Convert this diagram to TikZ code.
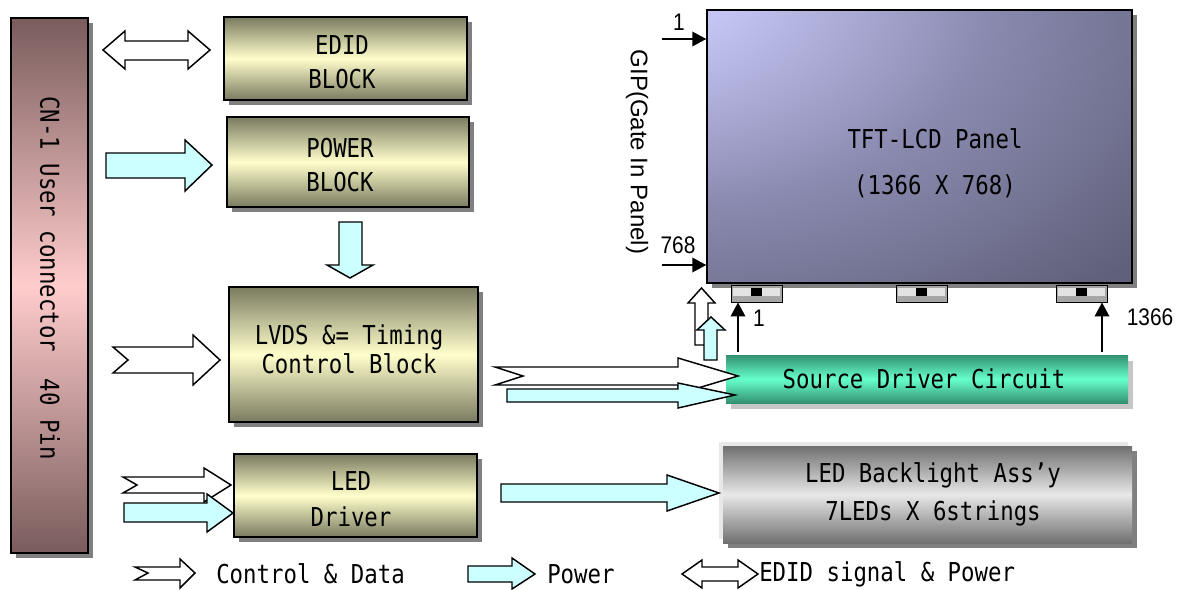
\documentclass[tikz,border=0pt]{standalone}
\usepackage{fontspec}
\usetikzlibrary{arrows.meta,shadows,fit,calc}
\newfontfamily\gul[FakeStretch=0.86]{DejaVu Sans Mono}
\newfontfamily\ari{Liberation Sans}
\newfontfamily\aric[FakeStretch=0.87]{Liberation Sans}
\definecolor{blkD}{RGB}{122,122,96}
\definecolor{blkL}{RGB}{255,255,204}
\definecolor{cnD}{RGB}{122,92,92}
\definecolor{cnL}{RGB}{255,204,204}
\definecolor{pnL}{RGB}{202,202,250}
\definecolor{pnM}{RGB}{138,138,176}
\definecolor{pnD}{RGB}{96,96,122}
\definecolor{srcD}{RGB}{52,145,112}
\definecolor{srcL}{RGB}{102,255,204}
\definecolor{blD}{RGB}{112,112,112}
\definecolor{blL}{RGB}{232,232,232}
\definecolor{cyanL}{RGB}{204,255,255}
\definecolor{shd}{RGB}{128,128,128}
\pgfdeclareradialshading{panelshade}{\pgfpoint{-42bp}{38bp}}{color(0bp)=(pnL); color(14bp)=(pnL); color(38bp)=(pnM); color(62bp)=(pnD); color(130bp)=(pnD)}
\begin{document}
\begin{tikzpicture}[x=0.75pt,y=-0.75pt,
  shadowed/.style={drop shadow={shadow xshift=3.75pt,shadow yshift=-3.75pt,fill=shd,opacity=1}},
  block/.style={draw=black,line width=1.1pt,top color=blkD,bottom color=blkD,middle color=blkL,inner sep=0pt,shadowed},
  cnbox/.style={draw=black,line width=1.1pt,top color=cnD,bottom color=cnD,middle color=cnL,inner sep=0pt,shadowed},
  panelbox/.style={draw=black,line width=1.1pt,shading=panelshade,inner sep=0pt,shadowed},
  srcbox/.style={top color=srcD,bottom color=srcD,middle color=srcL,inner sep=0pt,
     drop shadow={shadow xshift=3.75pt,shadow yshift=-4.5pt,fill=gray!45,opacity=1}},
  blbox/.style={top color=blD,bottom color=blD,middle color=blL,inner sep=0pt,shadowed},
  tabbox/.style={draw=black,line width=0.7pt,fill=gray!70,inner sep=0pt},
  txt/.style={font=\gul\fontsize{19.5}{25.5}\selectfont,align=center,inner sep=0pt},
  fatw/.style={draw=black,line width=1.1pt,fill=white,line join=miter},
  fatc/.style={draw=black,line width=1.1pt,fill=cyanL,line join=miter},
  thinarrow/.style={draw=black,line width=1.1pt,-{Triangle[length=10.5pt,width=11pt]}},
  num/.style={font=\aric\fontsize{18}{18}\selectfont,inner sep=0pt}]
\useasboundingbox (0,0) rectangle (1181,589);

% CN-1 connector
\node[cnbox,fit={(11,18) (88,553)}] (cn) {};
\node[txt,rotate=-90] (cnt) at (50,278) {CN-1 User connector\ \ 40 Pin};

% blocks
\node[block,fit={(224,17) (467,100)}] (edid) {};
\node[txt] (edidt) at (342,62) {EDID\\BLOCK};
\node[block,fit={(227,117) (469,207)}] (power) {};
\node[txt] (powert) at (340,165) {POWER\\BLOCK};
\node[block,fit={(229,287) (478,422)}] (lvds) {};
\node[txt,font=\gul\fontsize{19.5}{22}\selectfont] (lvdst) at (349,349) {LVDS \&= Timing\\Control Block};
\node[block,fit={(234,454) (477,537)}] (led) {};
\node[txt,font=\gul\fontsize{19.5}{27}\selectfont] (ledt) at (351,499) {LED\\Driver};

% panel
\node[panelbox,fit={(707,10) (1132,283)}] (panel) {};
\node[txt,font=\gul\fontsize{19.5}{34.5}\selectfont] (panelt) at (935,163) {TFT-LCD Panel\\(1366 X 768)};
\foreach \n/\xa in {1/731,2/896,3/1056}{
  \node[tabbox,fit={(\xa,285) (\xa+51,302)}] (tab\n) {};
  \fill[gray!22] ($(tab\n.north west)+(2,3)$) rectangle ($(tab\n.north east)+(-2,11)$);
  \fill[black] ($(tab\n.north)+(-6,3)$) rectangle ($(tab\n.north)+(5,11)$);
}

% source driver
\node[srcbox,fit={(726,355) (1128,403)}] (src) {};
\node[txt] (srct) at (924,379) {Source Driver Circuit};

% backlight
\fill[gray!18] (719,442) rectangle (1128,539);
\node[blbox,fit={(723,446) (1132,543)}] (bl) {};
\node[txt,font=\gul\fontsize{19.5}{28.5}\selectfont] (blt) at (933,494) {LED Backlight Ass’y\\7LEDs X 6strings};

% GIP
\node[font=\ari\fontsize{18}{18}\selectfont,rotate=-90,inner sep=0pt] (gip) at (637,152) {GIP(Gate In Panel)};
\coordinate (g1) at (662,39);
\coordinate (g768) at (662,265);
\draw[thinarrow] (g1) -- (g1 -| panel.west);
\draw[thinarrow] (g768) -- (g768 -| panel.west);
\node[num] (l1) at (679,22) {1};
\node[num] (l768) at (678,245) {768};

% source to panel
\coordinate (s1) at (738,352);
\coordinate (s1366) at (1102,352);
\draw[thinarrow] (s1) -- (s1 |- tab1.south);
\draw[thinarrow] (s1366) -- (s1366 |- tab3.south);
\node[num] (ls1) at (759,318) {1};
\node[num] (ls1366) at (1150,317) {1366};

% block arrows
\draw[fatw] (103,50) -- (125,31) -- (125,41) -- (188,41) -- (188,31) -- (210,50) -- (188,69) -- (188,60) -- (125,60) -- (125,69) -- cycle;
\draw[fatc] (106,153) -- (185,153) -- (185,140) -- (212,165) -- (185,191) -- (185,178) -- (106,178) -- cycle;
\draw[fatc] (339,222) -- (362,222) -- (362,265) -- (373,265) -- (350,278) -- (327,265) -- (339,265) -- cycle;
\draw[fatw] (113,347) -- (193,347) -- (193,335) -- (220,360) -- (193,385) -- (193,373) -- (113,373) -- (128,360) -- cycle;
\draw[fatw] (123,477) -- (204,477) -- (204,468) -- (231,485) -- (204,502) -- (204,493) -- (123,493) -- (137,485) -- cycle;
\draw[fatc] (124,503) -- (207,503) -- (207,494) -- (233,513) -- (207,532) -- (207,522) -- (124,522) -- cycle;
\draw[fatw] (495,367) -- (678,367) -- (678,358) -- (738,376) -- (678,394) -- (678,385) -- (495,385) -- (523,376) -- cycle;
\draw[fatc] (507,389) -- (678,389) -- (678,383) -- (735,395) -- (678,408) -- (678,402) -- (507,402) -- cycle;
\draw[fatc] (501,484) -- (667,484) -- (667,475) -- (719,493) -- (667,511) -- (667,502) -- (501,502) -- cycle;
% up arrows to panel
\draw[fatw] (695,345) -- (695,303) -- (688,303) -- (701.5,288) -- (715,303) -- (708,303) -- (708,345) -- cycle;
\draw[fatc] (704,360) -- (704,330) -- (697,330) -- (711,317) -- (725,330) -- (717,330) -- (717,360) -- cycle;

% legend
\draw[fatw] (135,567) -- (180,567) -- (180,559) -- (195,573) -- (180,588) -- (180,580) -- (135,580) -- (148,573) -- cycle;
\node[txt,anchor=west] (lg1) at (216,574) {Control \& Data};
\draw[fatc] (468,566) -- (512,566) -- (512,558) -- (535,574) -- (512,589) -- (512,582) -- (468,582) -- cycle;
\node[txt,anchor=west] (lg2) at (547,574) {Power};
\draw[fatw] (682,574) -- (702,560) -- (702,567) -- (738,567) -- (738,560) -- (758,574) -- (738,588) -- (738,581) -- (702,581) -- (702,588) -- cycle;
\node[txt,anchor=west] (lg3) at (759,574) {EDID signal \& Power};
\end{tikzpicture}
\end{document}
